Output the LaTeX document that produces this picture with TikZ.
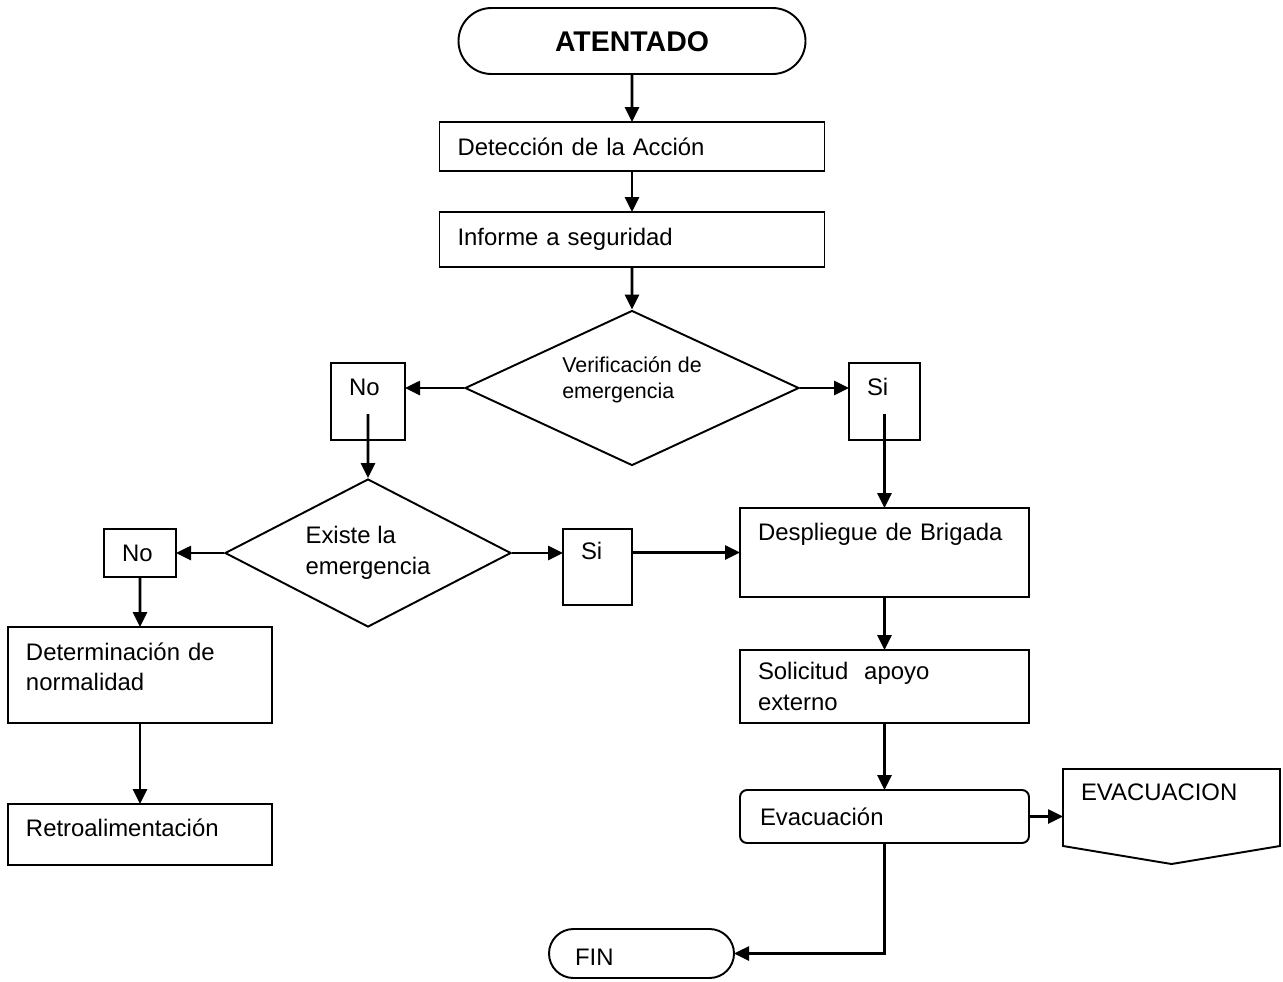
\documentclass[tikz,border=0pt]{standalone}
\usepackage{fontspec}
\setmainfont{Liberation Sans}
\usetikzlibrary{shapes.geometric,arrows.meta}

\begin{document}
\begin{tikzpicture}[
    line width=1.1pt,
    font=\fontsize{13.6}{17.6}\selectfont,
    box/.style={draw, rectangle, anchor=north west, outer sep=0pt, inner xsep=0.36cm, inner ysep=0pt,
        align=left, text height=0.34cm, text depth=0cm},
    decision/.style={draw, diamond, inner sep=0pt, align=left, text depth=0cm},
    flow/.style={line width=1.5pt, -{Triangle[length=0.3cm,width=0.28cm]}}
]
    \useasboundingbox (0,0) rectangle (25.66,-19.62);

    % column in the middle
    \node[draw, rounded corners=0.66cm, minimum width=6.94cm, minimum height=1.32cm, inner sep=0pt,
        outer sep=0pt, text height=0.41cm, text depth=0cm, font=\fontsize{16.2}{19}\selectfont\bfseries]
        (atentado) at (12.64,-0.82) {ATENTADO};
    \node[box, text width=6.98cm, minimum height=0.98cm] (deteccion) at (8.79,-2.44) {Detección de la Acción};
    \node[box, text width=6.98cm, minimum height=1.1cm, text depth=0.1cm] (informe) at (8.79,-4.24) {Informe a seguridad};
    \node[decision, shape aspect=2.15, minimum width=6.68cm, minimum height=3.1cm, text height=0.425cm,
        font=\fontsize{12.2}{14.6}\selectfont]
        (verif) at (12.64,-7.76) {Verificación de\\emergencia};
    \node[box, text width=0.76cm, minimum height=1.54cm, text depth=0.58cm] (noa) at (6.62,-7.26) {No};
    \node[box, text width=0.70cm, minimum height=1.54cm, text depth=0.58cm] (sia) at (16.98,-7.26) {Si};

    % left branch
    \node[decision, shape aspect=1.93, minimum width=5.72cm, minimum height=2.96cm,
        text height=0.84cm] (existe) at (7.36,-11.06) {Existe la\\emergencia};
    \node[box, text width=0.72cm, minimum height=0.96cm] (nob) at (2.08,-10.58) {No};
    \node[box, text width=0.66cm, minimum height=1.52cm, text depth=0.64cm] (sib) at (11.26,-10.58) {Si};
    \node[box, text width=4.56cm, minimum height=1.92cm, text depth=0.94cm] (normal) at (0.16,-12.54) {Determinación de\\normalidad};
    \node[box, text width=4.56cm, minimum height=1.22cm, text depth=0.26cm] (retro) at (0.16,-16.08) {Retroalimentación};

    % right branch
    \node[box, text width=5.06cm, minimum height=1.78cm, text depth=0.82cm] (brigada) at (14.8,-10.16) {Despliegue de Brigada};
    \node[box, text width=5.06cm, minimum height=1.46cm, text depth=0.62cm] (apoyo) at (14.8,-13.0) {Solicitud\ \ apoyo\\externo};
    \node[box, rounded corners=0.14cm, inner xsep=0.4cm, text width=4.98cm, minimum height=1.06cm] (evac) at (14.8,-15.8) {Evacuación};
    \node[box, draw=none, text width=3.62cm, minimum height=1.9cm, text depth=0.98cm] (evacon) at (21.26,-15.38) {EVACUACION};
    \draw (evacon.north west) -- (evacon.north east) -- ([yshift=0.36cm]evacon.south east)
        -- (evacon.south) -- ([yshift=0.36cm]evacon.south west) -- cycle;
    \node[box, rounded corners=0.49cm, inner xsep=0.52cm, text width=2.66cm, minimum height=0.98cm,
        text height=0.46cm] (fin) at (10.98,-18.58) {FIN};

    % connectors
    \draw[flow] (atentado.south) -- (deteccion.north);
    \draw[flow] (deteccion.south) -- (informe.north);
    \draw[flow] (informe.south) -- (verif.north);
    \draw[flow] (verif.west) -- (verif.west -| noa.east);
    \draw[flow] (verif.east) -- (verif.east -| sia.west);
    \draw[flow] ([yshift=0.52cm]noa.south) -- (existe.north);
    \draw[flow] ([yshift=0.52cm]sia.south) -- (brigada.north);
    \draw[flow] (existe.west) -- (existe.west -| nob.east);
    \draw[flow] (existe.east) -- (existe.east -| sib.west);
    \draw[flow] (brigada.west -| sib.east) -- (brigada.west);
    \draw[flow] (nob.south) -- (normal.north);
    \draw[flow] (normal.south) -- (retro.north);
    \draw[flow] (brigada.south) -- (apoyo.north);
    \draw[flow] (apoyo.south) -- (evac.north);
    \draw[flow] (evac.east) -- (evac.east -| evacon.west);
    \draw[flow] (evac.south) |- (fin.east);
\end{tikzpicture}
\end{document}
